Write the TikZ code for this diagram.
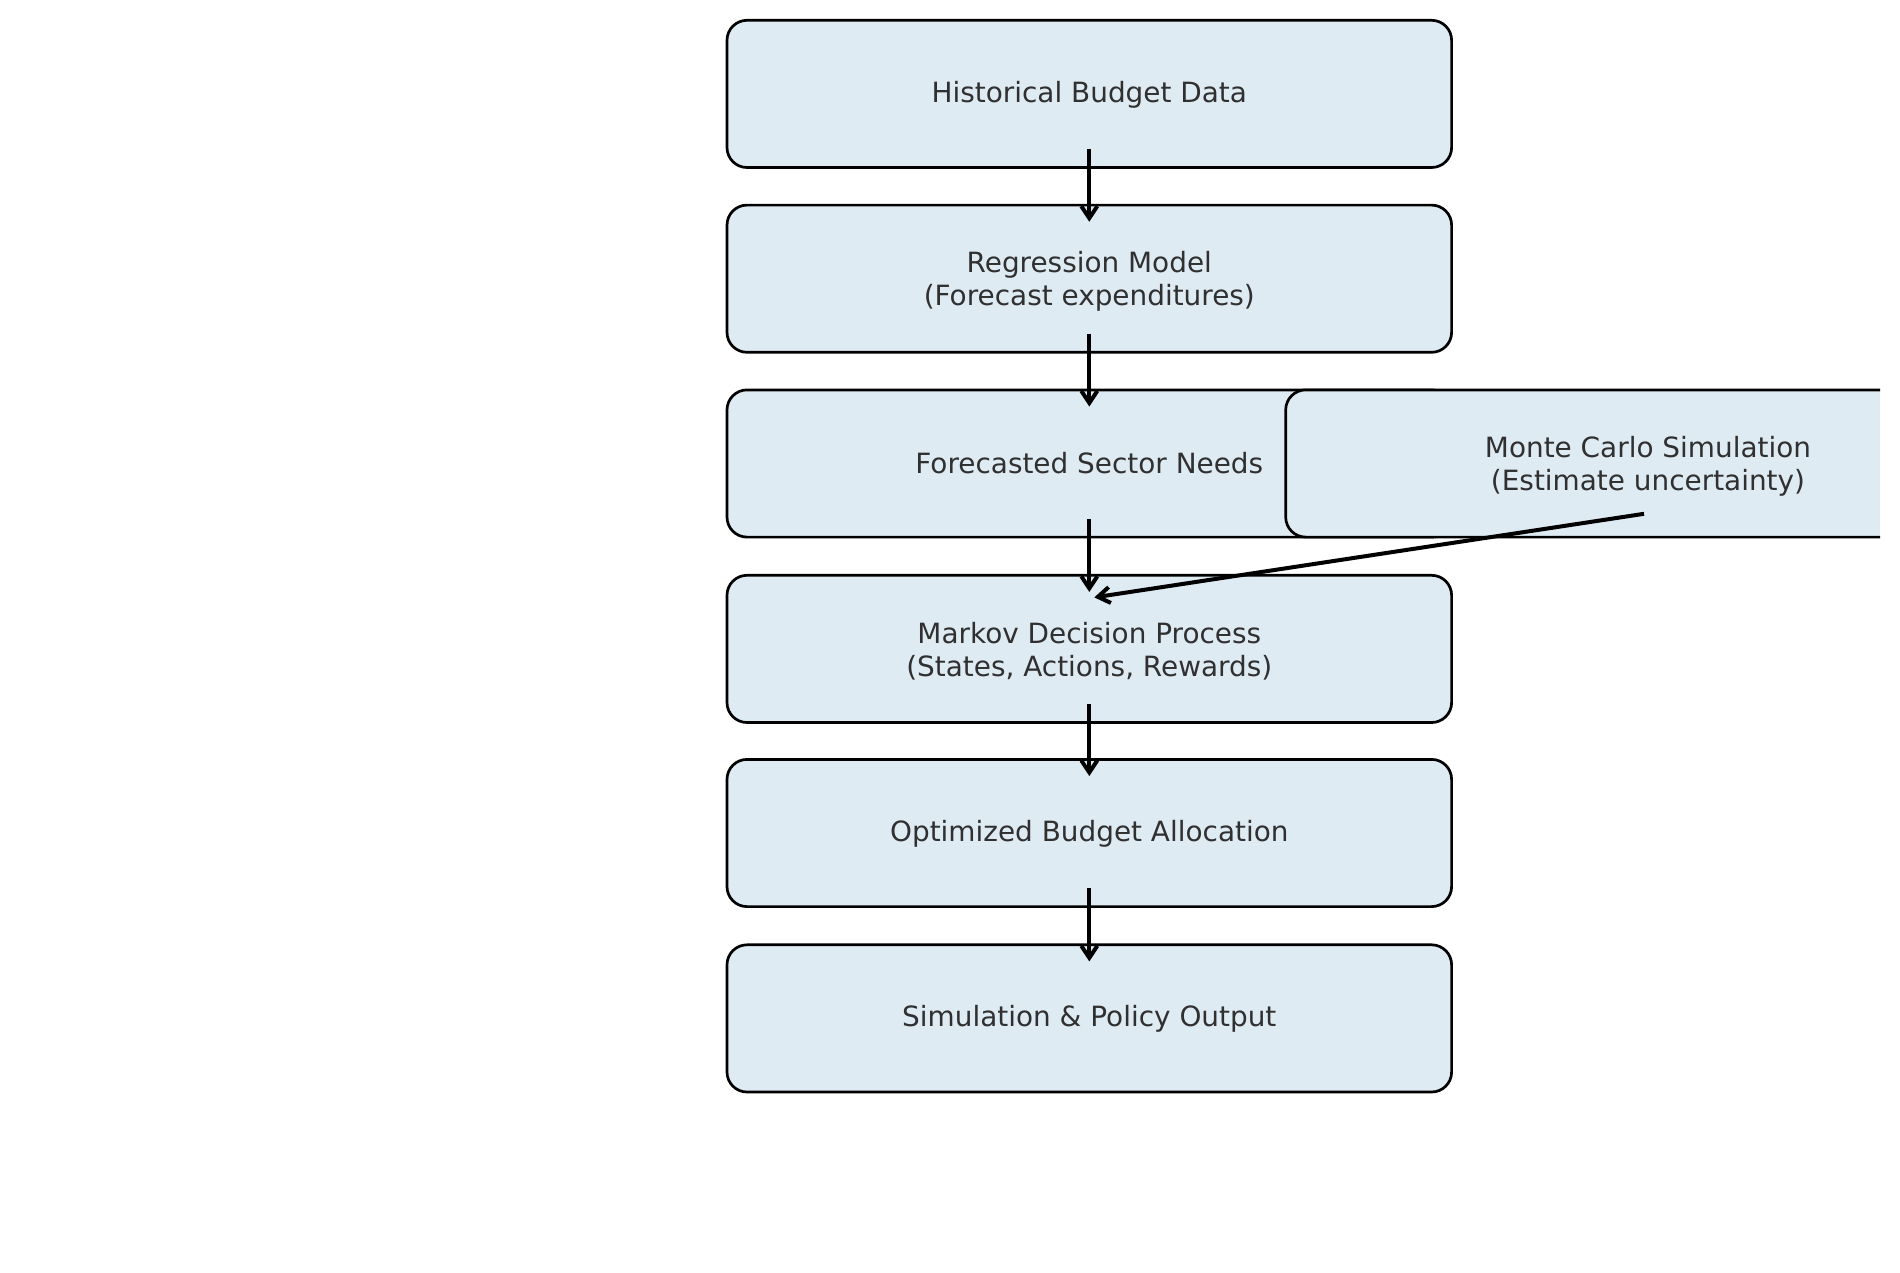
\documentclass[tikz,border=0pt]{standalone}
\usepackage{fontspec}
\setmainfont{DejaVu Sans}
\usetikzlibrary{arrows.meta,calc}
\definecolor{boxfill}{RGB}{223,235,243}
\definecolor{txt}{RGB}{48,48,48}
\tikzset{
  flowbox/.style={rectangle, rounded corners=20pt, draw=black, line width=2.7pt,
    fill=boxfill, minimum width=724.6pt, minimum height=147.2pt, inner sep=0pt},
  flowtext/.style={inner sep=0pt, align=center, text=txt,
    font=\fontsize{27.9}{33}\selectfont},
  flowarrow/.style={line width=4pt, draw=black, -{Straight Barb[length=12pt,width=16pt]}}
}
\begin{document}
\begin{tikzpicture}[x=1pt,y=-1pt]
\useasboundingbox (0,0) rectangle (1900,1272);
\fill[white] (0,0) rectangle (1900,1272);
\node[flowbox] (b1) at (1089.3,93.9) {};
\node[flowtext] (t1) at ([yshift=-1.2pt]b1.center) {Historical Budget Data};
\node[flowbox] (b2) at (1089.3,278.7) {};
\node[flowtext] (t2) at ([yshift=-2.4pt]b2.center) {Regression Model\\(Forecast expenditures)};
\node[flowbox] (b3) at (1089.3,463.5) {};
\node[flowtext] (t3) at ([yshift=0.5pt]b3.center) {Forecasted Sector Needs};
\begin{scope}
\clip (0,0) rectangle (1880,1272);
\node[flowbox] (mc) at (1648,463.5) {};
\end{scope}
\node[flowtext] (tmc) at ([yshift=-2.4pt]mc.center) {Monte Carlo Simulation\\(Estimate uncertainty)};
\node[flowbox] (b4) at (1089.3,648.9) {};
\node[flowtext] (t4) at ([yshift=-2.4pt]b4.center) {Markov Decision Process\\(States, Actions, Rewards)};
\node[flowbox] (b5) at (1089.3,833.0) {};
\node[flowtext] (t5) at ([yshift=-0.8pt]b5.center) {Optimized Budget Allocation};
\node[flowbox] (b6) at (1089.3,1018.4) {};
\node[flowtext] (t6) at ([yshift=-0.8pt]b6.center) {Simulation \& Policy Output};
\draw[flowarrow] ([yshift=19.7pt]b1.south) -- ([yshift=-18pt]b2.north);
\draw[flowarrow] ([yshift=19.7pt]b2.south) -- ([yshift=-18pt]b3.north);
\draw[flowarrow] ([yshift=19.7pt]b3.south) -- ([yshift=-18pt]b4.north);
\draw[flowarrow] ([yshift=19.7pt]b4.south) -- ([yshift=-18pt]b5.north);
\draw[flowarrow] ([yshift=19.7pt]b5.south) -- ([yshift=-18pt]b6.north);
\draw[flowarrow] ($(mc.center)+(-4,50.3)$) -- ($(b4.center)+(5,-51.5)$);
\end{tikzpicture}
\end{document}
